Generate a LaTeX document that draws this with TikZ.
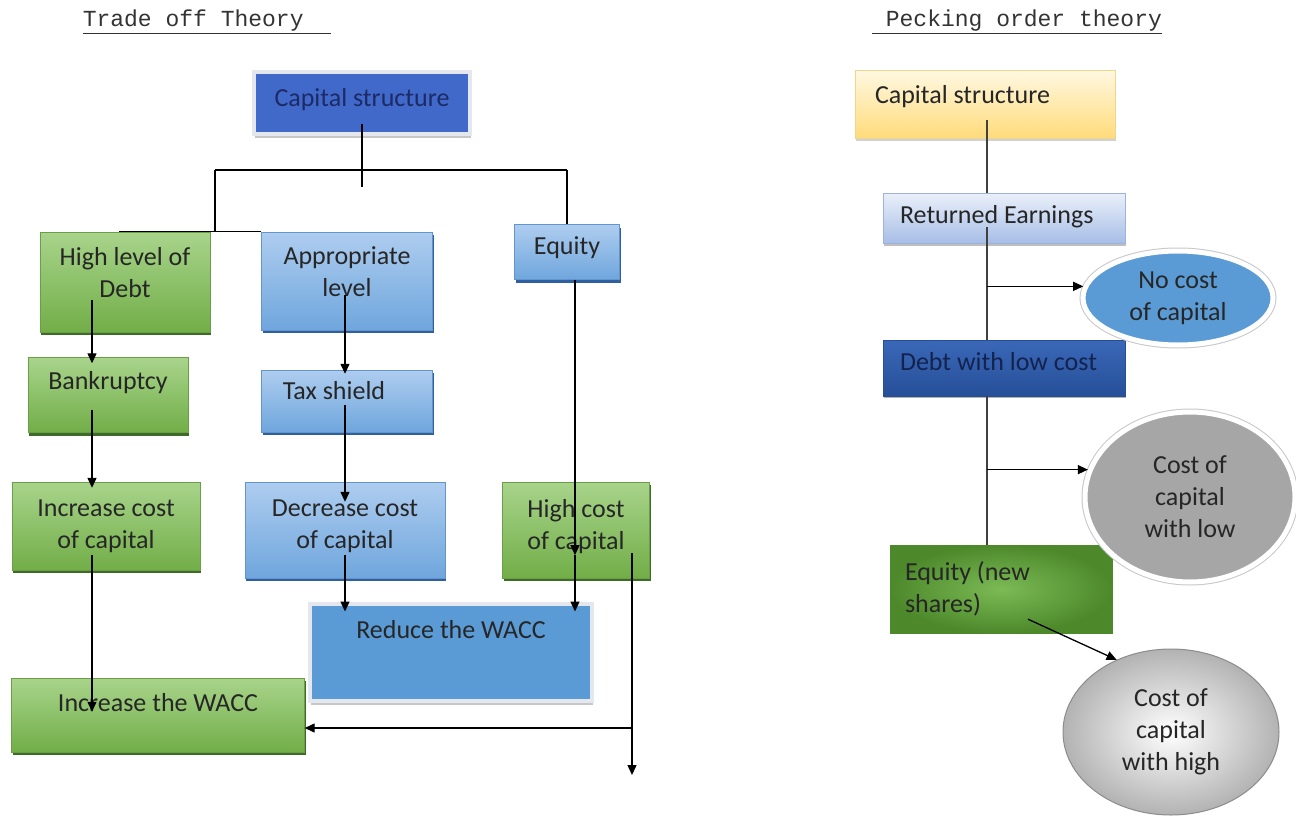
\documentclass[tikz,border=0pt]{standalone}
\usepackage{fontspec}
\setmainfont{Carlito}
\newfontfamily\titlefont{Liberation Mono}
\usepackage{tikz}
\usetikzlibrary{shapes.geometric, arrows.meta, calc, shadows}
\definecolor{TOGreenTop}{HTML}{A8D48B}
\definecolor{TOGreenBot}{HTML}{72AE48}
\definecolor{TOGreenEdge}{HTML}{6A9F48}
\definecolor{TOGreenShade}{HTML}{3E6B27}
\definecolor{TOBlueTop}{HTML}{AECDEF}
\definecolor{TOBlueBot}{HTML}{6FA6DD}
\definecolor{TOBlueEdge}{HTML}{6494CC}
\definecolor{TOBlueShade}{HTML}{2F5F9E}
\definecolor{TOCap}{HTML}{4169CA}
\definecolor{TOCapText}{HTML}{1C2A66}
\definecolor{TOFrame}{HTML}{E4E7ED}
\definecolor{TOWacc}{HTML}{5B9BD5}
\definecolor{POCapTop}{HTML}{FFF8E2}
\definecolor{POCapBot}{HTML}{FFDB7A}
\definecolor{POCapEdge}{HTML}{F0D58C}
\definecolor{POEarnTop}{HTML}{EAF0FA}
\definecolor{POEarnBot}{HTML}{A7BEE6}
\definecolor{POEarnEdge}{HTML}{9DB2DC}
\definecolor{PODebtTop}{HTML}{3A68B8}
\definecolor{PODebtBot}{HTML}{264F98}
\definecolor{PODebtText}{HTML}{13234F}
\definecolor{POEqIn}{HTML}{7BBA55}
\definecolor{POEqOut}{HTML}{4D892B}
\definecolor{POBlue}{HTML}{5B9BD5}
\definecolor{POGrey}{HTML}{A6A6A6}
% keep the font's own word spaces in left-aligned boxes
\newcommand{\plainsp}{\spaceskip=0pt \xspaceskip=0pt\relax}

\begin{document}
\begin{tikzpicture}[x=1pt, y=-1pt,
    font=\fontsize{26}{32}\selectfont,
    box/.style={rectangle, inner sep=4pt, align=center, text=black!85},
    gbox/.style={box, draw=TOGreenEdge, top color=TOGreenTop, bottom color=TOGreenBot,
                 drop shadow={shadow xshift=1pt, shadow yshift=-3pt, fill=TOGreenShade, opacity=1}},
    bbox/.style={box, draw=TOBlueEdge, top color=TOBlueTop, bottom color=TOBlueBot,
                 drop shadow={shadow xshift=1pt, shadow yshift=-3pt, fill=TOBlueShade, opacity=1}},
    framed/.style={box, draw=TOFrame, line width=4pt,
                   drop shadow={shadow xshift=1pt, shadow yshift=-4pt, fill=black!22, opacity=1}},
    oval/.style={ellipse, align=center, text=black!85, inner sep=0pt},
    ringed/.style={oval, preaction={draw=black!22, line width=7pt}, draw=white, line width=5pt},
    link/.style={black, line width=1.3pt},
    arr/.style={link, -{Triangle[length=10pt, width=9pt]}},
    spine/.style={black!75, line width=1.3pt},
    heading/.style={font=\titlefont\fontsize{23}{28}\selectfont, text=black!80}
  ]
  \useasboundingbox[fill=white] (0,0) rectangle (1296,825);

  % Trade off theory (left)
  \node[heading] (hTrade) at (207,22) {\underline{Trade off Theory\ \ }};
  \node[framed, fill=TOCap, text=TOCapText, minimum width=216pt, minimum height=62pt,
        text depth=11pt] (capL) at (362,103) {Capital structure};

  \node[gbox, minimum width=170pt, minimum height=100pt, text depth=20pt] (high) at (125,282) {High level of\\Debt};
  \node[bbox, minimum width=171pt, minimum height=98pt, text depth=18pt] (appr) at (347,281) {Appropriate\\level};
  \node[bbox, minimum width=105pt, minimum height=55pt, text depth=13pt] (eqL) at (567,252) {Equity};
  \node[gbox, minimum width=160pt, minimum height=75pt, text depth=30pt] (bank) at (108,395) {Bankruptcy};
  \node[bbox, minimum width=171pt, minimum height=62pt, text depth=22pt] (tax) at (347,401) {Tax shield\hspace*{26pt}};
  \node[gbox, minimum width=188pt, minimum height=88pt] (incC) at (106,526) {Increase cost\\of capital};
  \node[bbox, minimum width=200pt, minimum height=96pt, text depth=12pt] (decC) at (345,530) {Decrease cost\\of capital};
  \node[gbox, minimum width=147pt, minimum height=96pt, text depth=12pt] (highC) at (576,530) {High cost\\of capital};
  \node[framed, fill=TOWacc, minimum width=282pt, minimum height=97pt, text depth=45pt] (redW) at (451,652) {Reduce the WACC};
  \node[gbox, minimum width=293pt, minimum height=74pt, text depth=26pt] (incW) at (158,715) {Increase the WACC};

  % tree under capital structure
  \coordinate (busL) at (215,170);
  \coordinate (busR) at (567,170);
  \coordinate (stem) at (362,187);
  \draw[link] ($(capL.south)+(0,-12)$) -- (stem);
  \draw[link] (busL) -- (busR);
  \draw[link] (busL) -- (busL |- high.north);
  \draw[link] (busR) -- (eqL.north);
  \draw[link] ([xshift=-6pt]high.north) -- (appr.north west);

  % columns of arrows
  \coordinate (gcol) at (92,0);
  \coordinate (bcol) at (345,0);
  \coordinate (ecol) at (575,0);
  \coordinate (rcol) at (632,0);
  \draw[arr] ($(high.south -| gcol)+(0,-32)$) -- ($(bank.north -| gcol)+(0,6)$);
  \draw[arr] ($(bank.south -| gcol)+(0,-23)$) -- ($(incC.north -| gcol)+(0,6)$);
  \draw[arr] ($(incC.south -| gcol)+(0,-15)$) -- ($(incW.north -| gcol)+(0,34)$);
  \draw[arr] ($(appr.south -| bcol)+(0,-35)$) -- ($(tax.north -| bcol)+(0,4)$);
  \draw[arr] ($(tax.south -| bcol)+(0,-27)$) -- ($(decC.north -| bcol)+(0,20)$);
  \draw[arr] ($(decC.south -| bcol)+(0,-23)$) -- ($(redW.north -| bcol)+(0,10)$);
  \draw[arr] (eqL.south -| ecol) -- ($(highC.south -| ecol)+(0,-23)$);
  \draw[arr] ($(highC.south -| ecol)+(0,-23)$) -- ($(redW.north -| ecol)+(0,10)$);
  \coordinate (turn) at (632,728);
  \coordinate (drop) at (632,775);
  \draw[arr] ($(highC.south -| rcol)+(0,-25)$) -- (drop);
  \draw[arr] (turn) -- (incW.east |- turn);

  % Pecking order theory (right)
  \node[heading] (hPeck) at (1017,22) {\underline{\ Pecking order theory}};
  \node[box, align=left, text width=220pt, inner xsep=20pt, minimum height=68pt, text depth=20pt,
        top color=POCapTop, bottom color=POCapBot, draw=POCapEdge,
        drop shadow={shadow xshift=1pt, shadow yshift=-3pt, fill=black!18, opacity=1}] (capR) at (985,104) {\plainsp Capital structure};
  \node[box, align=left, text width=208pt, inner xsep=17pt, minimum height=50pt, text depth=8pt,
        top color=POEarnTop, bottom color=POEarnBot, draw=POEarnEdge,
        drop shadow={shadow xshift=1pt, shadow yshift=-3pt, fill=black!25, opacity=1}] (ret) at (1004,218) {\plainsp Returned Earnings};
  \node[box, align=left, text width=208pt, inner xsep=17pt, minimum height=56pt, text depth=13pt,
        top color=PODebtTop, bottom color=PODebtBot, draw=PODebtBot, text=PODebtText,
        drop shadow={shadow xshift=1pt, shadow yshift=-2pt, fill=black!30, opacity=1}] (debt) at (1004,368) {\plainsp Debt with low cost};
  \node[box, align=left, text width=192pt, inner xsep=15pt, minimum height=88pt,
        inner color=POEqIn, outer color=POEqOut, draw=POEqOut] (eqR) at (1001,589) {\plainsp Equity (new\\shares)};

  \node[ringed, fill=POBlue, minimum width=190pt, minimum height=94pt] (noCost) at (1178,298) {No cost\\of capital};
  \node[ringed, fill=POGrey, minimum width=210pt, minimum height=170pt] (lowCost) at (1190,497) {Cost of\\capital\\with low};
  \node[oval, inner color=white, outer color=black!30, draw=black!45, line width=1pt,
        minimum width=216pt, minimum height=166pt] (highCost) at (1171,732) {Cost of\\capital\\with high};

  \coordinate (pcol) at (987,0);
  \draw[spine] ($(capR.south -| pcol)+(0,-18)$) -- (ret.north -| pcol);
  \draw[spine] ($(ret.south -| pcol)+(0,-16)$) -- (debt.north -| pcol);
  \draw[spine] (debt.south -| pcol) -- (eqR.north -| pcol);
  \draw[arr] (pcol |- noCost.173) -- (noCost.173);
  \draw[arr] (pcol |- lowCost.165) -- (lowCost.165);
  \draw[arr] ($(eqR.south)+(27,-14)$) -- (highCost.127);
\end{tikzpicture}
\end{document}
